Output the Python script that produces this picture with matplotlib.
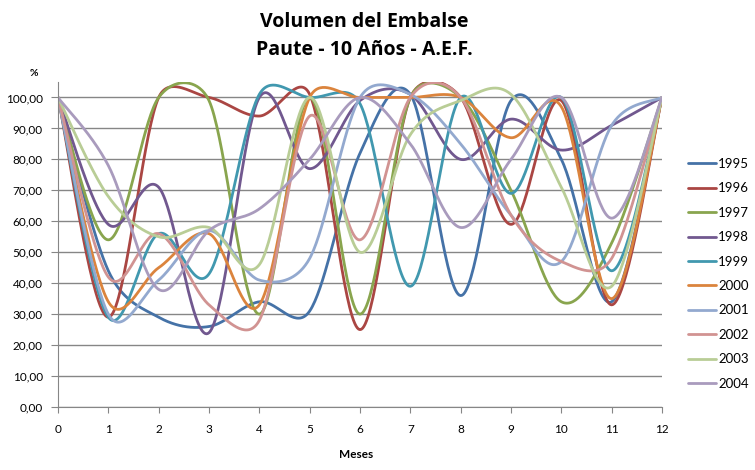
import numpy as np
import matplotlib
matplotlib.use('Agg')
import matplotlib.pyplot as plt
from matplotlib.ticker import FuncFormatter

plt.rcParams['font.family'] = ['Lato', 'DejaVu Sans']

# ------------ Data ------------ #
months = list(range(13))
years = ['1995', '1996', '1997', '1998', '1999', '2000', '2001', '2002', '2003', '2004']
v1995 = [100, 44, 29, 26, 34, 31, 82, 101, 36, 99, 80, 34, 100]
v1996 = [100, 29, 100, 100, 94, 101, 25, 100, 100, 59, 99, 33, 100]
v1997 = [100, 54, 100, 99, 30, 100, 30, 100, 100, 70, 34, 53, 100]
v1998 = [100, 59, 71, 24, 100, 77, 99, 101, 80, 93, 83, 91, 100]
v1999 = [100, 29, 56, 43, 101, 100, 98, 39, 100, 69, 100, 44, 100]
v2000 = [100, 34, 45, 56, 33, 100, 100, 100, 100, 87, 97, 35, 100]
v2001 = [100, 30, 41, 57, 41, 48, 100, 101, 85, 62, 47, 91, 100]
v2002 = [100, 42, 56, 33, 28, 94, 54, 100, 100, 62, 47, 48, 100]
v2003 = [100, 68, 55, 58, 46, 100, 50, 88, 99, 101, 71, 39, 100]
v2004 = [100, 78, 38, 57, 64, 80, 100, 85, 58, 80, 100, 61, 100]
series = [v1995, v1996, v1997, v1998, v1999, v2000, v2001, v2002, v2003, v2004]
colors = ['#4572A7', '#AA4643', '#89A54E', '#71588F', '#4198AF',
          '#DB843D', '#93A9CF', '#D19392', '#B9CD96', '#A99BBD']


# ------------ Function Def ------------ #

def smooth_line(ax, xs, ys, n=40):
    # Excel-like bezier smoothing, done in pixel space
    pts = ax.transData.transform(np.column_stack([xs, ys]))
    out = []
    for i in range(len(pts) - 1):
        p0 = pts[max(i - 1, 0)]
        p1 = pts[i]
        p2 = pts[i + 1]
        p3 = pts[min(i + 2, len(pts) - 1)]
        seg = np.linalg.norm(p2 - p1)
        c1 = (p2 - p0) / 6.0
        c2 = (p3 - p1) / 6.0
        if np.linalg.norm(c1) > seg / 2:
            c1 = c1 * (seg / 2) / np.linalg.norm(c1)
        if np.linalg.norm(c2) > seg / 2:
            c2 = c2 * (seg / 2) / np.linalg.norm(c2)
        b1 = p1 + c1
        b2 = p2 - c2
        t = np.linspace(0, 1, n)[:, None]
        curve = (1 - t) ** 3 * p1 + 3 * (1 - t) ** 2 * t * b1 + 3 * (1 - t) * t ** 2 * b2 + t ** 3 * p2
        out.append(curve if i == 0 else curve[1:])
    xy = ax.transData.inverted().transform(np.vstack(out))
    return xy[:, 0], xy[:, 1]


# ---------------------- main ---------------------- #
fig = plt.figure(figsize=(7.55, 4.7), dpi=100)
ax = fig.add_axes([58 / 755, 63 / 470, 604 / 755, 325 / 470])
ax.set_xlim(0, 12)
ax.set_ylim(0, 105)

for name, vals, col in zip(years, series, colors):
    sx, sy = smooth_line(ax, months, vals)
    ax.plot(sx, sy, color=col, lw=2.0, label=name, solid_capstyle='round')

grid_col = '#868686'
ax.set_xticks(months)
ax.set_yticks(np.arange(0, 101, 10))
ax.yaxis.set_major_formatter(FuncFormatter(lambda v, p: f"{v:.2f}".replace('.', ',')))
ax.grid(axis='y', color=grid_col, lw=1.0)
ax.set_axisbelow(True)
for s in ['top', 'right']:
    ax.spines[s].set_visible(False)
for s in ['left', 'bottom']:
    ax.spines[s].set_color(grid_col)
ax.tick_params(axis='x', direction='out', length=4, color=grid_col, labelsize=8.5, pad=8)
ax.tick_params(axis='y', direction='out', length=5, color=grid_col, labelsize=8.5, pad=6)

fig.text(364 / 755, 1 - 22 / 470, 'Volumen del Embalse', ha='center', va='center',
         fontsize=14, fontweight='bold', family='Open Sans')
fig.text(364 / 755, 1 - 50 / 470, 'Paute - 10 Años - A.E.F.', ha='center', va='center',
         fontsize=14, fontweight='bold', family='Open Sans')
fig.text(34 / 755, 1 - 73 / 470, '%', ha='center', va='center', fontsize=7.5, fontweight='bold')
fig.text(356 / 755, 1 - 455 / 470, 'Meses', ha='center', va='center', fontsize=8.5, fontweight='bold')

fig.legend(loc='upper left', bbox_to_anchor=(688 / 755, 1 - 158 / 470), frameon=False,
           fontsize=9.5, handlelength=2.1, handletextpad=0.2, labelspacing=0.94,
           borderpad=0, borderaxespad=0)

fig.savefig('out.png', dpi=100)
